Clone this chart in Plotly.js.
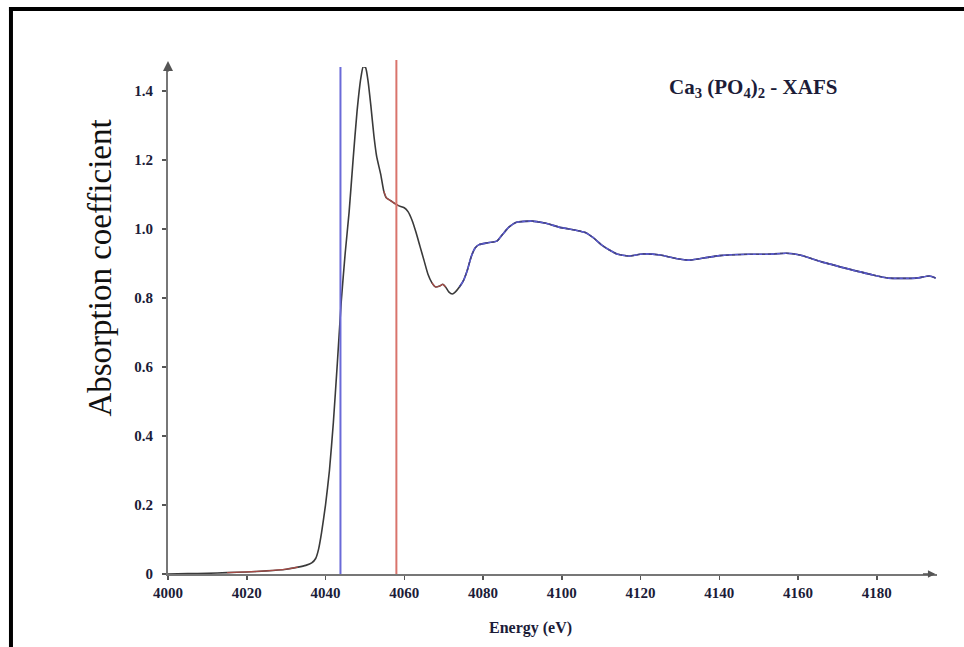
<!DOCTYPE html>
<html>
<head>
<meta charset="utf-8">
<script src="https://cdn.plot.ly/plotly-3.0.1.min.js"></script>
<style>
  html, body { margin: 0; padding: 0; background: #fff; }
  #chart { width: 964px; height: 647px; }
</style>
</head>
<body>
<div id="chart"></div>
<script>
// ---- data ----
const energy = [4000, 4005, 4010, 4015, 4020, 4025, 4030, 4033, 4035, 4036.5, 4037.5, 4038.2, 4039, 4040, 4041, 4042, 4043, 4044, 4045, 4046, 4047, 4048, 4049, 4049.6, 4050.2, 4050.8, 4051.5, 4052.3, 4053, 4054, 4054.8, 4055.5, 4056.5, 4057.5, 4058.5, 4060, 4061, 4062, 4063, 4064, 4065, 4066, 4067, 4068, 4069, 4069.8, 4070.5, 4071.3, 4072.2, 4073, 4074, 4075, 4076, 4077, 4078, 4079, 4081, 4083.5, 4085, 4086.5, 4088.5, 4092.5, 4096, 4099.5, 4103.5, 4106, 4108, 4110, 4112, 4114, 4117, 4120.5, 4125, 4129, 4132.5, 4137, 4140, 4147.5, 4152, 4157, 4160.5, 4166, 4173, 4179, 4183, 4190, 4193.4, 4195];
const absorption = [0, 0.001, 0.002, 0.004, 0.006, 0.009, 0.014, 0.02, 0.025, 0.032, 0.045, 0.07, 0.12, 0.2, 0.3, 0.44, 0.61, 0.79, 0.93, 1.05, 1.2, 1.34, 1.44, 1.472, 1.468, 1.43, 1.36, 1.27, 1.21, 1.16, 1.11, 1.09, 1.083, 1.075, 1.068, 1.062, 1.05, 1.025, 0.99, 0.95, 0.91, 0.87, 0.845, 0.832, 0.835, 0.84, 0.832, 0.818, 0.812, 0.818, 0.832, 0.85, 0.88, 0.92, 0.945, 0.955, 0.96, 0.965, 0.985, 1.005, 1.02, 1.023, 1.017, 1.005, 0.997, 0.99, 0.975, 0.955, 0.94, 0.928, 0.922, 0.928, 0.925, 0.915, 0.91, 0.918, 0.923, 0.927, 0.927, 0.93, 0.925, 0.905, 0.884, 0.867, 0.858, 0.858, 0.864, 0.858];

// energies of the two vertical marker lines (blue, red)
const markerEnergies = [4043.8, 4058.0];
const markerColors = ['#6a6ad8', '#d9746c'];

// colour-overlay ranges of the curve
const redRanges = [[4012, 4034], [4054.8, 4058.5], [4067, 4070.5]];
const blueRange = [4074, 4195];

const xTickVals = [4000, 4020, 4040, 4060, 4080, 4100, 4120, 4140, 4160, 4180];
const yTickVals = [0, 0.2, 0.4, 0.6, 0.8, 1.0, 1.2, 1.4];
const yTickText = ['0', '0.2', '0.4', '0.6', '0.8', '1.0', '1.2', '1.4'];

const titleText = 'Ca<sub>3</sub> (PO<sub>4</sub>)<sub>2</sub> - XAFS';
const xTitle = 'Energy (eV)';
const yTitle = 'Absorption coefficient';

// ---- build traces ----
function segment(lo, hi) {
  const xs = [], ys = [];
  for (let i = 0; i < energy.length; i++) {
    if (energy[i] >= lo && energy[i] <= hi) { xs.push(energy[i]); ys.push(absorption[i]); }
  }
  return {xs, ys};
}

const serif = '"Liberation Serif", "Times New Roman", serif';
const textColor = '#1c1c38';

const traces = [{
  x: energy, y: absorption, type: 'scatter', mode: 'lines',
  line: {color: '#3a3a3a', width: 1.6, shape: 'spline', smoothing: 0.5},
  hoverinfo: 'skip', showlegend: false
}];

const b = segment(blueRange[0], blueRange[1]);
traces.push({
  x: b.xs, y: b.ys, type: 'scatter', mode: 'lines',
  line: {color: '#5a5ad6', width: 1.6, shape: 'spline', smoothing: 0.5},
  hoverinfo: 'skip', showlegend: false
});
traces.push({
  x: b.xs, y: b.ys, type: 'scatter', mode: 'lines',
  line: {color: 'rgba(50,50,60,0.55)', width: 1.2, dash: 'dot', shape: 'spline', smoothing: 0.5},
  hoverinfo: 'skip', showlegend: false
});
redRanges.forEach(r => {
  const s = segment(r[0], r[1]);
  traces.push({
    x: s.xs, y: s.ys, type: 'scatter', mode: 'lines',
    line: {color: '#c0504a', width: 1.3, shape: 'spline', smoothing: 0.5},
    hoverinfo: 'skip', showlegend: false, opacity: 0.8
  });
});

// ---- shapes: vertical markers + frame ----
const shapes = [
  {type: 'line', xref: 'x', yref: 'paper', x0: markerEnergies[0], x1: markerEnergies[0], y0: 0, y1: 1.0,
   line: {color: markerColors[0], width: 2}},
  {type: 'line', xref: 'x', yref: 'paper', x0: markerEnergies[1], x1: markerEnergies[1], y0: 0, y1: 1.014,
   line: {color: markerColors[1], width: 2}},
  // picture frame (left and top borders)
  {type: 'line', xref: 'paper', yref: 'paper', x0: -0.2042, x1: -0.2042, y0: -0.16, y1: 1.1183,
   line: {color: '#000', width: 4}},
  {type: 'line', xref: 'paper', yref: 'paper', x0: -0.2068, x1: 1.05, y0: 1.1144, y1: 1.1144,
   line: {color: '#000', width: 4}}
];

const annotations = [
  {xref: 'paper', yref: 'paper', x: 0.649, y: 0.958, xanchor: 'left', yanchor: 'middle',
   text: titleText, showarrow: false,
   font: {family: serif, size: 21, color: textColor, weight: 'bold'}},
  {xref: 'paper', yref: 'paper', x: -0.088, y: 0.603, xanchor: 'center', yanchor: 'middle',
   text: yTitle, textangle: -90, showarrow: false,
   font: {family: serif, size: 33, color: '#111'}},
  {xref: 'paper', yref: 'paper', x: 0.472, y: -0.1065, xanchor: 'center', yanchor: 'middle',
   text: xTitle, showarrow: false,
   font: {family: serif, size: 16, color: textColor, weight: 'bold'}},
  // axis arrowheads
  {xref: 'paper', yref: 'paper', x: 0, y: 1.012, ax: 0, ay: 12, text: '', showarrow: true,
   arrowhead: 2, arrowsize: 1, arrowwidth: 2, arrowcolor: '#555'},
  {xref: 'paper', yref: 'paper', x: 0.998, y: 0, ax: -14, ay: 0, text: '', showarrow: true,
   arrowhead: 2, arrowsize: 1, arrowwidth: 1.5, arrowcolor: '#555'}
];

const layout = {
  width: 964, height: 647,
  margin: {l: 168, r: 27, t: 67, b: 73, pad: 0},
  paper_bgcolor: '#fff', plot_bgcolor: '#fff',
  showlegend: false,
  xaxis: {
    range: [4000, 4195.3], tickvals: xTickVals, showgrid: false, zeroline: false,
    showline: true, linecolor: '#777', linewidth: 2,
    ticks: 'outside', ticklen: 4, tickcolor: '#555', tickwidth: 1.5,
    tickfont: {family: serif, size: 15, color: textColor, weight: 'bold'},
    ticklabelstandoff: 0
  },
  yaxis: {
    range: [0, 1.47], tickvals: yTickVals, ticktext: yTickText, showgrid: false, zeroline: false,
    showline: true, linecolor: '#777', linewidth: 2,
    ticks: 'outside', ticklen: 4, tickcolor: '#555', tickwidth: 1.5,
    tickfont: {family: serif, size: 15, color: textColor, weight: 'bold'},
    ticklabelstandoff: 6
  },
  shapes: shapes,
  annotations: annotations
};

Plotly.newPlot('chart', traces, layout, {staticPlot: true, displayModeBar: false});
</script>
</body>
</html>
